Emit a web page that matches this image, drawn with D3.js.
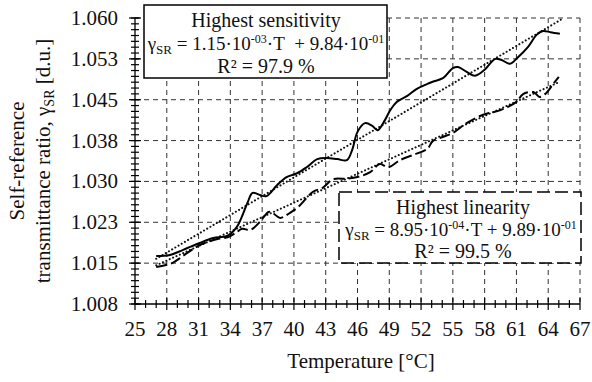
<!DOCTYPE html>
<html><head><meta charset="utf-8">
<script src="https://cdn.jsdelivr.net/npm/d3@7"></script>
<style>
html,body{margin:0;padding:0;background:#fff;}
svg{display:block;}
text{font-family:"Liberation Serif","Tinos","Times New Roman","DejaVu Serif",serif;}
</style></head>
<body><svg id="c" width="592" height="382"></svg>
<script>
// ---- data ----
const sensT = [27, 28.3, 29.5, 31.1, 32.4, 33.7, 34.6, 35.6, 36.1, 36.8, 37.4, 38.4, 39.3, 40.3, 41.2, 42.2, 43.1, 44.1, 45, 45.5, 46.0, 46.7, 47.4, 47.9, 48.6, 49.1, 49.7, 50.7, 51.6, 52.6, 53.1, 54.1, 55.0, 55.5, 56.3, 57.1, 58.0, 59.0, 59.6, 60.4, 61.1, 62.1, 62.9, 63.5, 64.2, 65.1];
const sensV = [1.0163, 1.0165, 1.0174, 1.0187, 1.0196, 1.0200, 1.0216, 1.0260, 1.0279, 1.0275, 1.0273, 1.0293, 1.0308, 1.0315, 1.0326, 1.0341, 1.0343, 1.0341, 1.0339, 1.0358, 1.0391, 1.0407, 1.0402, 1.0394, 1.0413, 1.0431, 1.0446, 1.0457, 1.0470, 1.0479, 1.0483, 1.0490, 1.0508, 1.0510, 1.0501, 1.0494, 1.0505, 1.0525, 1.0523, 1.0516, 1.0527, 1.0547, 1.0569, 1.0576, 1.0574, 1.0571];
const linT = [27, 28.5, 29.5, 31.1, 32.7, 33.8, 34.6, 35.1, 35.9, 36.8, 37.6, 38.0, 38.7, 39.6, 40.4, 41.8, 42.7, 43.7, 45.0, 46.0, 47.2, 48.1, 48.9, 50.0, 51.3, 52.6, 53.1, 54.1, 55.0, 56.3, 57.8, 59.5, 61.0, 61.6, 62.6, 63.2, 63.8, 64.4, 65.0];
const linV = [1.0143, 1.0150, 1.0163, 1.0183, 1.0194, 1.0198, 1.0207, 1.0213, 1.0211, 1.0226, 1.0244, 1.0242, 1.0233, 1.0242, 1.0253, 1.0281, 1.0288, 1.0304, 1.0305, 1.0308, 1.0317, 1.0332, 1.0326, 1.0339, 1.0349, 1.0360, 1.0374, 1.0382, 1.0389, 1.0407, 1.0422, 1.0431, 1.0446, 1.0460, 1.0464, 1.0455, 1.0462, 1.0477, 1.0492];
const fitSensT = [27, 65.2];
const fitSensV = [1.0158, 1.0597];
const fitLinT = [27, 65.1];
const fitLinV = [1.0146, 1.0483];
const xTicks = [25, 28, 31, 34, 37, 40, 43, 46, 49, 52, 55, 58, 61, 64, 67];
const yTicks = [1.0075, 1.015, 1.0225, 1.030, 1.0375, 1.045, 1.0525, 1.060];
const yTickLabels = ["1.008", "1.015", "1.023", "1.030", "1.038", "1.045", "1.053", "1.060"];

const svg = d3.select("#c");
const FONT = "Liberation Serif, Tinos, Times New Roman, DejaVu Serif, serif";
const L = 135, R = 580, T = 18, B = 304;
const x = d3.scaleLinear().domain([25, 67]).range([L, R]);
const y = d3.scaleLinear().domain([1.0075, 1.060]).range([B, T]);

// grid
const g = svg.append("g");
g.selectAll(".vg").data(xTicks.slice(1)).join("line")
  .attr("x1", d => x(d)).attr("x2", d => x(d)).attr("y1", T).attr("y2", B)
  .attr("stroke", "#333").attr("stroke-width", 1).attr("stroke-dasharray", "5,4");
g.selectAll(".hg").data(yTicks.slice(1)).join("line")
  .attr("x1", L).attr("x2", R).attr("y1", d => y(d)).attr("y2", d => y(d))
  .attr("stroke", "#333").attr("stroke-width", 1).attr("stroke-dasharray", "5,4");

// axes lines
svg.append("line").attr("x1", L).attr("x2", L).attr("y1", T).attr("y2", B).attr("stroke", "#000").attr("stroke-width", 1.3);
svg.append("line").attr("x1", L).attr("x2", R).attr("y1", B).attr("y2", B).attr("stroke", "#000").attr("stroke-width", 1.3);

// x ticks (crossing)
const xMinor = d3.range(25, 67.01, 1);
svg.selectAll(".xm").data(xMinor).join("line")
  .attr("x1", d => x(d)).attr("x2", d => x(d))
  .attr("y1", d => (d - 25) % 3 === 0 ? B - 6 : B - 4)
  .attr("y2", d => (d - 25) % 3 === 0 ? B + 6 : B + 4)
  .attr("stroke", "#000").attr("stroke-width", 1.2);
// y ticks
const yMinor = d3.range(0, 50).map(i => 1.0075 + i * 0.0075 / 7).filter(v => v <= 1.06001);
svg.selectAll(".ym").data(yMinor).join("line")
  .attr("y1", d => y(d)).attr("y2", d => y(d))
  .attr("x1", L - 4).attr("x2", L + 4)
  .attr("stroke", "#000").attr("stroke-width", 1.2);
svg.selectAll(".yM").data(yTicks).join("line")
  .attr("y1", d => y(d)).attr("y2", d => y(d))
  .attr("x1", L - 6).attr("x2", L + 6)
  .attr("stroke", "#000").attr("stroke-width", 1.2);

// tick labels
svg.selectAll(".xl").data(xTicks).join("text")
  .attr("font-family", FONT)
  .attr("x", d => x(d)).attr("y", 336).attr("text-anchor", "middle")
  .attr("font-size", 21).attr("fill", "#111").text(d => d);
svg.selectAll(".yl").data(yTicks).join("text")
  .attr("font-family", FONT)
  .attr("x", 118).attr("y", d => y(d) + 7).attr("text-anchor", "end")
  .attr("font-size", 21).attr("fill", "#111").text((d, i) => yTickLabels[i]);

// axis titles
svg.append("text").attr("font-family", FONT).attr("x", 361).attr("y", 368).attr("text-anchor", "middle")
  .attr("font-size", 21).attr("fill", "#111").text("Temperature [°C]");
const yt = svg.append("text").attr("font-family", FONT).attr("transform", "translate(24,161) rotate(-90)")
  .attr("text-anchor", "middle").attr("font-size", 21).attr("fill", "#111");
yt.text("Self-reference");
const yt2 = svg.append("text").attr("font-family", FONT).attr("transform", "translate(50,161) rotate(-90)")
  .attr("text-anchor", "middle").attr("font-size", 21).attr("fill", "#111");
yt2.append("tspan").text("transmittance ratio, γ");
yt2.append("tspan").attr("font-size", 14).attr("dy", 4).text("SR");
yt2.append("tspan").attr("dy", -4).text(" [d.u.]");

// series
const line = d3.line().x(d => x(d[0])).y(d => y(d[1])).curve(d3.curveCatmullRom.alpha(0.5));
const zip = (a, b) => a.map((v, i) => [v, b[i]]);
svg.append("path").datum(zip(fitSensT, fitSensV)).attr("d", line)
  .attr("fill", "none").attr("stroke", "#111").attr("stroke-width", 2)
  .attr("stroke-linecap", "round").attr("stroke-dasharray", "0.1,3.6");
svg.append("path").datum(zip(fitLinT, fitLinV)).attr("d", line)
  .attr("fill", "none").attr("stroke", "#111").attr("stroke-width", 2)
  .attr("stroke-linecap", "round").attr("stroke-dasharray", "0.1,3.6");
svg.append("path").datum(zip(sensT, sensV)).attr("d", line)
  .attr("fill", "none").attr("stroke", "#000").attr("stroke-width", 2);
svg.append("path").datum(zip(linT, linV)).attr("d", line)
  .attr("fill", "none").attr("stroke", "#000").attr("stroke-width", 2)
  .attr("stroke-dasharray", "11,4");

// legend boxes
function eq(cx, cy, a, ea, b, eb, gap) {
  const tx = svg.append("text").attr("font-family", FONT).attr("x", cx).attr("y", cy).attr("text-anchor", "middle")
    .attr("font-size", 19).attr("fill", "#111");
  tx.append("tspan").text("γ");
  tx.append("tspan").attr("font-size", 13).attr("dy", 4).text("SR");
  tx.append("tspan").attr("dy", -4).text(" = " + a + "·10");
  tx.append("tspan").attr("font-size", 12).attr("dy", -7).text(ea);
  tx.append("tspan").attr("dy", 7).text("·T" + gap + "+ " + b + "·10");
  tx.append("tspan").attr("font-size", 12).attr("dy", -7).text(eb);
  return tx;
}
svg.append("rect").attr("x", 144).attr("y", 5).attr("width", 243).attr("height", 73)
  .attr("fill", "#fff").attr("stroke", "#000").attr("stroke-width", 1.5);
svg.append("text").attr("font-family", FONT).attr("x", 266).attr("y", 27).attr("text-anchor", "middle")
  .attr("font-size", 20).attr("fill", "#111").text("Highest sensitivity");
eq(266, 50, "1.15", "-03", "9.84", "-01", "\u00a0 ");
svg.append("text").attr("font-family", FONT).attr("x", 266).attr("y", 73).attr("text-anchor", "middle")
  .attr("font-size", 20).attr("fill", "#111").text("R² = 97.9 %");

svg.append("rect").attr("x", 339).attr("y", 192).attr("width", 242).attr("height", 71)
  .attr("fill", "#fff").attr("stroke", "#000").attr("stroke-width", 1.5).attr("stroke-dasharray", "13,5");
svg.append("text").attr("font-family", FONT).attr("x", 463).attr("y", 214).attr("text-anchor", "middle")
  .attr("font-size", 20).attr("fill", "#111").text("Highest linearity");
eq(461, 236, "8.95", "-04", "9.89", "-01", " ");
svg.append("text").attr("font-family", FONT).attr("x", 463).attr("y", 258).attr("text-anchor", "middle")
  .attr("font-size", 20).attr("fill", "#111").text("R² = 99.5 %");
</script></body></html>
